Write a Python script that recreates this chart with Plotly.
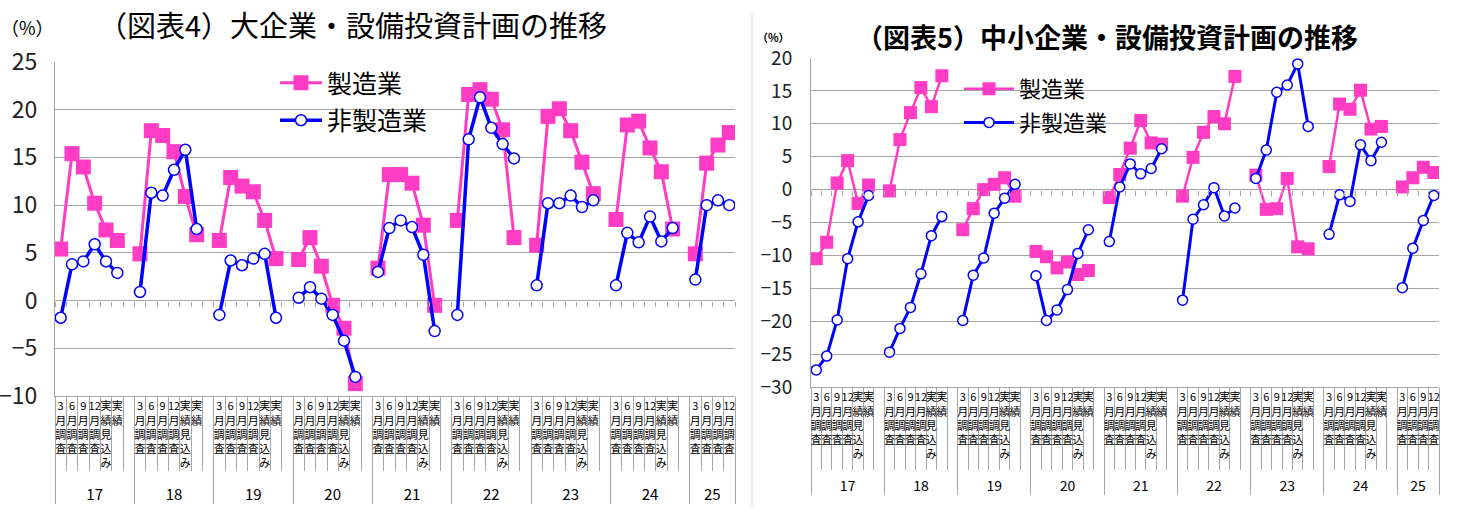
import plotly.graph_objects as go

W, H = 1458, 527

# ---------------- data ----------------
years = ['17', '18', '19', '20', '21', '22', '23', '24', '25']
sub_full = ['3月調査', '6月調査', '9月調査', '12月調査', '実績見込み', '実績', ' ']
sub_last = ['3月調査', '6月調査', '9月調査', '12月調査']

# 大企業 製造業 (blank slot after each year = None)
large_mfg = [5.4, 15.4, 14.0, 10.2, 7.4, 6.3, None,
             4.9, 17.8, 17.3, 15.6, 10.9, 6.9, None,
             6.3, 12.9, 12.0, 11.4, 8.4, 4.4, None,
             4.3, 6.6, 3.6, -0.5, -2.9, -8.7, None,
             3.4, 13.2, 13.2, 12.3, 7.9, -0.5, None,
             8.4, 21.6, 22.1, 21.1, 17.9, 6.6, None,
             5.8, 19.3, 20.1, 17.8, 14.5, 11.2, None,
             8.5, 18.4, 18.8, 16.0, 13.5, 7.5, None,
             4.9, 14.4, 16.3, 17.6]
# 大企業 非製造業
large_nonmfg = [-1.8, 3.8, 4.1, 5.9, 4.1, 2.9, None,
                0.9, 11.3, 11.0, 13.7, 15.8, 7.5, None,
                -1.5, 4.2, 3.7, 4.4, 4.9, -1.8, None,
                0.3, 1.4, 0.2, -1.5, -4.2, -8.0, None,
                3.0, 7.6, 8.4, 7.7, 4.8, -3.2, None,
                -1.5, 16.9, 21.3, 18.1, 16.4, 14.9, None,
                1.6, 10.2, 10.2, 11.0, 9.8, 10.5, None,
                1.6, 7.1, 6.1, 8.8, 6.2, 7.6, None,
                2.2, 10.0, 10.5, 10.0]
# 中小企業 製造業
sme_mfg = [-10.5, -8.0, 1.0, 4.4, -2.1, 0.7, None,
           -0.2, 7.6, 11.7, 15.5, 12.6, 17.3, None,
           -6.1, -2.9, 0.0, 0.8, 1.8, -1.0, None,
           -9.4, -10.2, -11.9, -11.0, -12.9, -12.3, None,
           -1.2, 2.3, 6.3, 10.5, 7.1, 6.9, None,
           -1.0, 4.9, 8.7, 11.1, 10.0, 17.2, None,
           2.2, -3.0, -2.9, 1.7, -8.7, -9.0, None,
           3.5, 13.0, 12.2, 15.1, 9.2, 9.6, None,
           0.4, 1.8, 3.4, 2.6]
# 中小企業 非製造業
sme_nonmfg = [-27.4, -25.3, -19.8, -10.5, -4.9, -0.9, None,
              -24.7, -21.1, -17.9, -12.8, -7.0, -4.1, None,
              -19.9, -13.0, -10.4, -3.6, -1.3, 0.8, None,
              -13.1, -19.9, -18.3, -15.2, -9.7, -6.1, None,
              -7.9, 0.4, 3.9, 2.4, 3.2, 6.2, None,
              -16.8, -4.5, -2.3, 0.3, -4.0, -2.8, None,
              1.7, 6.0, 14.8, 15.9, 19.1, 9.6, None,
              -6.8, -0.8, -1.8, 6.8, 4.4, 7.2, None,
              -14.9, -8.9, -4.7, -0.9]

title_left = '（図表4）大企業・設備投資計画の推移'
title_right = '（図表5）中小企業・設備投資計画の推移'
name_mfg = '製造業'
name_nonmfg = '非製造業'

# ---------------- styles ----------------
PINK = '#FF3CC4'
BLUE = '#0000FF'
GRID = '#A6A6A6'
FONT = 'Noto Sans CJK JP, sans-serif'


def stack(s):
    """vertical (tategaki) label: one character per line, digits kept together"""
    if not s.strip():
        return s
    toks, cur = [], ''
    for ch in s:
        if ch.isdigit():
            cur += ch
        else:
            if cur:
                toks.append(cur)
                cur = ''
            toks.append(ch)
    if cur:
        toks.append(cur)
    return '<br>'.join(toks)


def build_x(year_size):
    outer, inner = [], []
    for y in years:
        subs = sub_last if y == years[-1] else sub_full
        for s in subs:
            outer.append(f"<span style='font-size:{year_size}px'><br>{y}</span>")
            inner.append(stack(s))
    return [outer, inner]


xl = build_x(15)
xr = build_x(14)
n = len(xl[0])

fig = go.Figure()

# left chart
fig.add_trace(go.Scatter(x=xl, y=large_mfg, name=name_mfg, mode='lines+markers',
                         line=dict(color=PINK, width=3),
                         marker=dict(symbol='square', size=15, color=PINK),
                         xaxis='x', yaxis='y', legend='legend', legendgroup='a'))
fig.add_trace(go.Scatter(x=xl, y=large_nonmfg, name=name_nonmfg, mode='lines+markers',
                         line=dict(color=BLUE, width=3.5),
                         marker=dict(symbol='circle', size=11, color='white',
                                     line=dict(color=BLUE, width=1.5)),
                         xaxis='x', yaxis='y', legend='legend', legendgroup='b'))
# helper (invisible) for tick marks along the zero line
fig.add_trace(go.Scatter(x=xl, y=large_mfg, mode='lines', line=dict(width=0),
                         opacity=0, showlegend=False, hoverinfo='skip',
                         xaxis='x3', yaxis='y'))

# right chart
fig.add_trace(go.Scatter(x=xr, y=sme_mfg, name=name_mfg, mode='lines+markers',
                         line=dict(color=PINK, width=2.5),
                         marker=dict(symbol='square', size=13, color=PINK),
                         xaxis='x2', yaxis='y2', legend='legend2', legendgroup='c'))
fig.add_trace(go.Scatter(x=xr, y=sme_nonmfg, name=name_nonmfg, mode='lines+markers',
                         line=dict(color=BLUE, width=3),
                         marker=dict(symbol='circle', size=10, color='white',
                                     line=dict(color=BLUE, width=1.5)),
                         xaxis='x2', yaxis='y2', legend='legend2', legendgroup='d'))
fig.add_trace(go.Scatter(x=xr, y=sme_mfg, mode='lines', line=dict(width=0),
                         opacity=0, showlegend=False, hoverinfo='skip',
                         xaxis='x4', yaxis='y2'))

# ---------------- geometry ----------------
L_X = [55 / W, 735 / W]
L_Y = [1 - 396 / H, 1 - 62 / H]
R_X = [811 / W, 1439 / W]
R_Y = [1 - 387 / H, 1 - 58 / H]
L_RANGE = [-10, 25]
R_RANGE = [-30, 20]


def zero_pos(dom, rng):
    return dom[0] + (0 - rng[0]) / (rng[1] - rng[0]) * (dom[1] - dom[0])


xr_rng = [-0.5, n - 0.5]


def cat_axis(domain, anchor, ticklen, fsize):
    return dict(domain=domain, anchor=anchor, type='multicategory', range=xr_rng,
                showline=True, linecolor=GRID, linewidth=1,
                ticks='outside', tickson='boundaries', ticklen=ticklen,
                tickcolor=GRID, tickwidth=1, ticklabelstandoff=0,
                tickangle=0, automargin=False, nticks=500,
                showdividers=True, dividercolor=GRID, dividerwidth=1,
                tickfont=dict(size=fsize, color='#000', family=FONT),
                showgrid=False, zeroline=False, fixedrange=True)


def zero_axis(over, pos):
    return dict(overlaying=over, anchor='free', position=pos, type='multicategory',
                range=xr_rng, showticklabels=False, ticks='outside',
                tickson='boundaries', ticklen=5, tickcolor=GRID, tickwidth=1,
                automargin=False, nticks=500,
                showline=False, showgrid=False, showdividers=False, zeroline=False)


def val_axis(domain, anchor, rng, size, standoff):
    return dict(domain=domain, anchor=anchor, range=rng, dtick=5, tick0=0,
                showgrid=True, gridcolor=GRID, gridwidth=1,
                zeroline=True, zerolinecolor=GRID, zerolinewidth=1,
                showline=True, linecolor=GRID, linewidth=1, ticks='',
                ticklabelstandoff=standoff, automargin=False,
                tickfont=dict(size=size, color='#222', family=FONT))


fig.update_layout(
    width=W, height=H, margin=dict(l=0, r=0, t=0, b=0, autoexpand=False),
    paper_bgcolor='white', plot_bgcolor='white',
    font=dict(family=FONT, color='#000'),
    xaxis=cat_axis(L_X, 'y', 74, 11),
    yaxis=val_axis(L_Y, 'x', L_RANGE, 23, 12),
    xaxis2=cat_axis(R_X, 'y2', 82, 11),
    yaxis2=val_axis(R_Y, 'x2', R_RANGE, 19, 14),
    xaxis3=zero_axis('x', zero_pos(L_Y, L_RANGE)),
    xaxis4=zero_axis('x2', zero_pos(R_Y, R_RANGE)),
    legend=dict(x=275 / W, y=1 - 60 / H, xanchor='left', yanchor='top',
                font=dict(size=25, color='#000', family=FONT), itemwidth=42,
                tracegroupgap=2, bgcolor='rgba(0,0,0,0)'),
    legend2=dict(x=959 / W, y=1 - 68 / H, xanchor='left', yanchor='top',
                 font=dict(size=22, color='#000', family=FONT), itemwidth=50,
                 tracegroupgap=2, bgcolor='rgba(0,0,0,0)'),
    showlegend=True,
)

fig.add_annotation(text=title_left, x=352 / W, y=1 - 24 / H, xref='paper', yref='paper',
                   showarrow=False, xanchor='center', yanchor='middle',
                   font=dict(size=29, color='#000', family=FONT))
fig.add_annotation(text='（%）', x=27 / W, y=1 - 27 / H, xref='paper', yref='paper',
                   showarrow=False, xanchor='center', yanchor='middle',
                   font=dict(size=18, color='#000', family=FONT))
fig.add_annotation(text='<b>' + title_right + '</b>', x=1107 / W, y=1 - 36 / H,
                   xref='paper', yref='paper', showarrow=False,
                   xanchor='center', yanchor='middle',
                   font=dict(size=27, color='#000', family=FONT))
fig.add_annotation(text='<b>（%）</b>', x=773 / W, y=1 - 37 / H, xref='paper', yref='paper',
                   showarrow=False, xanchor='center', yanchor='middle',
                   font=dict(size=11, color='#000', family=FONT))

fig.add_shape(type='line', xref='paper', yref='paper', x0=752 / W, x1=752 / W,
              y0=1 - 506 / H, y1=1 - 13 / H, line=dict(color='#D9D9D9', width=1))

fig.write_html('out.html')
